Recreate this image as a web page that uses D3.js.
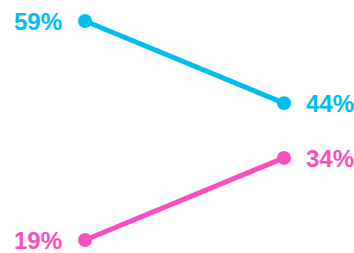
<!DOCTYPE html>
<html>
<head>
<meta charset="utf-8">
<script src="https://cdn.jsdelivr.net/npm/d3@7"></script>
<style>
  body { margin: 0; background: #fff; }
  svg { display: block; }
</style>
</head>
<body>
<div class="chart"></div>
<script>
// slope chart data
const periods = ["start", "end"];
const seriesNames = ["blue", "pink"];
const blueValues = [59, 44];
const pinkValues = [19, 34];
const seriesColors = ["#00bcf0", "#fa4dbf"];

let width = 354, height = 253;

let svg = d3.select(".chart").append("svg")
    .attr("width", width)
    .attr("height", height);

// scales
let x = d3.scalePoint()
    .domain(periods)
    .range([85, 284]);

let y = d3.scaleLinear()
    .domain([19, 59])
    .range([240, 21]);

let series = [
    {name: seriesNames[0], values: blueValues, color: seriesColors[0]},
    {name: seriesNames[1], values: pinkValues, color: seriesColors[1]}
];

let line = d3.line()
    .x((d, i) => x(periods[i]))
    .y(d => y(d));

let groups = svg.selectAll(".series")
    .data(series)
    .enter().append("g")
    .attr("class", "series");

groups.append("path")
    .attr("d", d => line(d.values))
    .attr("fill", "none")
    .attr("stroke", d => d.color)
    .attr("stroke-width", 5);

groups.selectAll("circle")
    .data(d => d.values.map((v, i) => ({v: v, i: i, color: d.color})))
    .enter().append("circle")
    .attr("cx", d => x(periods[d.i]))
    .attr("cy", d => y(d.v))
    .attr("r", 7)
    .attr("fill", d => d.color);

groups.selectAll("text")
    .data(d => d.values.map((v, i) => ({v: v, i: i, color: d.color})))
    .enter().append("text")
    .attr("x", d => d.i === 0 ? x(periods[d.i]) - 23 : x(periods[d.i]) + 22)
    .attr("y", d => y(d.v))
    .attr("dy", "0.36em")
    .attr("text-anchor", d => d.i === 0 ? "end" : "start")
    .attr("fill", d => d.color)
    .style("font-family", "'Liberation Sans', Arial, sans-serif")
    .style("font-weight", "bold")
    .style("font-size", "24px")
    .text(d => d.v + "%");
</script>
</body>
</html>
